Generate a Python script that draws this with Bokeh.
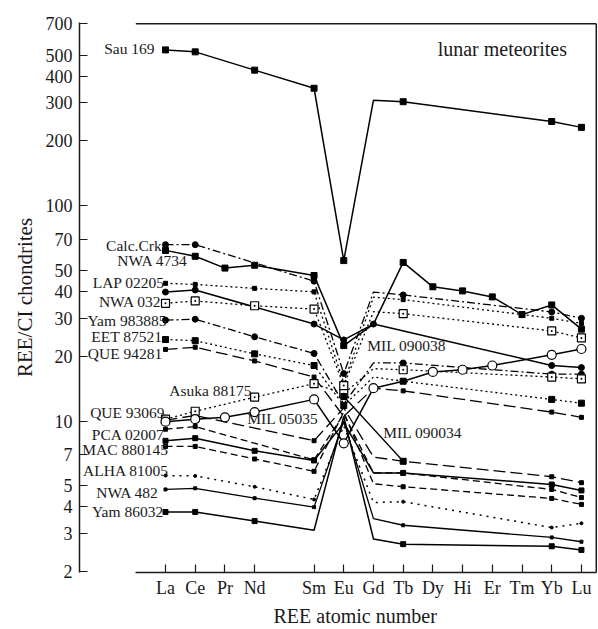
from bokeh.plotting import figure
from bokeh.models import Range1d, FixedTicker, NumeralTickFormatter, ColumnDataSource, Label, Title
from bokeh.core.properties import value
from bokeh.embed import file_html
from bokeh.resources import INLINE

# ---------------- data ----------------
ELEMENTS = ["La", "Ce", "Pr", "Nd", "Pm", "Sm", "Eu", "Gd", "Tb", "Dy", "Hi", "Er", "Tm", "Yb", "Lu"]
TICK_ELEMENTS = ["La", "Ce", "Pr", "Nd", "Sm", "Eu", "Gd", "Tb", "Dy", "Hi", "Er", "Tm", "Yb", "Lu"]
Y_TICKS = [2, 3, 4, 5, 7, 10, 20, 30, 40, 50, 70, 100, 200, 300, 400, 500, 700]

sau169_el = ["La", "Ce", "Nd", "Sm", "Eu", "Gd", "Tb", "Yb", "Lu"]
sau169_val = [529, 518, 426, 351, 55.6, 309, 304, 246, 231]
sau169_mk = ["La", "Ce", "Nd", "Sm", "Eu", "Tb", "Yb", "Lu"]

calccrk_el = ["La", "Ce", "Sm", "Eu", "Gd", "Tb", "Yb", "Lu"]
calccrk_val = [65.9, 65.9, 44.6, 16.6, 39.7, 38.5, 32.1, 30.0]
calccrk_mk = ["La", "Ce", "Sm", "Eu", "Tb", "Yb", "Lu"]

nwa4734_el = ["La", "Ce", "Pr", "Nd", "Sm", "Eu", "Gd", "Tb", "Dy", "Hi", "Er", "Tm", "Yb", "Lu"]
nwa4734_val = [62.0, 58.2, 51.3, 52.9, 47.4, 22.4, 28.2, 54.5, 42.0, 40.2, 37.7, 31.2, 34.6, 26.7]
nwa4734_mk = ["La", "Ce", "Pr", "Nd", "Sm", "Eu", "Tb", "Dy", "Hi", "Er", "Tm", "Yb", "Lu"]

lap02205_el = ["La", "Ce", "Nd", "Sm", "Eu", "Gd", "Tb", "Yb", "Lu"]
lap02205_val = [43.6, 43.1, 41.3, 39.8, 15.0, 37.6, 36.6, 30.0, 28.4]
lap02205_mk = ["La", "Ce", "Nd", "Sm", "Eu", "Tb", "Yb", "Lu"]

mil090038_el = ["La", "Ce", "Sm", "Eu", "Gd", "Yb", "Lu"]
mil090038_val = [39.7, 40.6, 28.2, 23.8, 28.2, 18.1, 17.7]
mil090038_mk = ["La", "Ce", "Sm", "Eu", "Gd", "Yb", "Lu"]

nwa032_el = ["La", "Ce", "Nd", "Sm", "Eu", "Gd", "Tb", "Yb", "Lu"]
nwa032_val = [35.2, 36.1, 34.3, 33.1, 14.6, 32.2, 31.5, 26.2, 24.3]
nwa032_mk = ["La", "Ce", "Nd", "Sm", "Eu", "Tb", "Yb", "Lu"]

yam983885_el = ["La", "Ce", "Nd", "Sm", "Eu", "Gd", "Tb", "Yb", "Lu"]
yam983885_val = [29.4, 29.7, 24.6, 20.6, 12.0, 18.6, 18.6, 16.5, 16.5]
yam983885_mk = ["La", "Ce", "Nd", "Sm", "Tb", "Yb", "Lu"]

eet87521_el = ["La", "Ce", "Nd", "Sm", "Eu", "Gd", "Tb", "Yb", "Lu"]
eet87521_val = [23.9, 23.6, 20.5, 18.1, 11.8, 16.0, 15.3, 12.6, 12.1]
eet87521_mk = ["La", "Ce", "Nd", "Sm", "Eu", "Tb", "Yb", "Lu"]

que94281_el = ["La", "Ce", "Nd", "Sm", "Eu", "Gd", "Tb", "Yb", "Lu"]
que94281_val = [21.5, 22.0, 19.0, 16.0, 10.5, 14.2, 13.8, 11.0, 10.4]
que94281_mk = ["La", "Ce", "Nd", "Sm", "Tb", "Yb", "Lu"]

asuka88175_el = ["La", "Ce", "Nd", "Sm", "Eu", "Gd", "Tb", "Yb", "Lu"]
asuka88175_val = [10.2, 11.1, 12.9, 14.9, 13.4, 17.5, 17.3, 16.0, 15.7]
asuka88175_mk = ["La", "Ce", "Nd", "Sm", "Eu", "Tb", "Yb", "Lu"]

que93069_el = ["La", "Ce", "Sm", "Eu", "Gd", "Tb", "Yb", "Lu"]
que93069_val = [10.1, 10.6, 8.1, 11.5, 6.8, 6.5, 5.51, 5.17]
que93069_mk = ["Sm", "Tb", "Yb", "Lu"]

mil05035_el = ["La", "Ce", "Pr", "Nd", "Sm", "Eu", "Gd", "Tb", "Dy", "Hi", "Er", "Yb", "Lu"]
mil05035_val = [9.93, 10.2, 10.4, 11.0, 12.6, 7.88, 14.2, 15.3, 16.9, 17.3, 18.1, 20.3, 21.6]
mil05035_mk = ["La", "Ce", "Pr", "Nd", "Sm", "Eu", "Gd", "Dy", "Hi", "Er", "Yb", "Lu"]

mil090034_el = ["Eu", "Tb"]
mil090034_val = [13.0, 6.5]
mil090034_mk = ["Eu", "Tb"]

pca02007_el = ["La", "Ce", "Sm", "Eu", "Gd", "Tb", "Yb", "Lu"]
pca02007_val = [9.16, 9.42, 6.6, 10.8, 5.74, 5.74, 4.81, 4.41]
pca02007_mk = ["La", "Ce", "Sm", "Tb", "Yb", "Lu"]

solid8_el = ["La", "Ce", "Nd", "Sm", "Eu", "Gd", "Tb", "Yb", "Lu"]
solid8_val = [8.09, 8.32, 7.27, 6.56, 9.8, 5.74, 5.74, 5.07, 4.76]
solid8_mk = ["La", "Ce", "Nd", "Sm", "Tb", "Yb", "Lu"]

mac880145_el = ["La", "Ce", "Nd", "Sm", "Eu", "Gd", "Tb", "Yb", "Lu"]
mac880145_val = [7.62, 7.62, 6.66, 5.84, 11.0, 5.11, 4.95, 4.37, 4.10]
mac880145_mk = ["La", "Ce", "Nd", "Sm", "Tb", "Yb", "Lu"]

alha81005_el = ["La", "Ce", "Nd", "Sm", "Eu", "Gd", "Tb", "Yb", "Lu"]
alha81005_val = [5.58, 5.56, 4.95, 4.32, 9.5, 4.18, 4.22, 3.2, 3.35]
alha81005_mk = ["La", "Ce", "Nd", "Sm", "Tb", "Yb", "Lu"]

nwa482_el = ["La", "Ce", "Nd", "Sm", "Eu", "Gd", "Tb", "Yb", "Lu"]
nwa482_val = [4.81, 4.87, 4.38, 3.98, 10.0, 3.52, 3.28, 2.88, 2.75]
nwa482_mk = ["La", "Ce", "Nd", "Sm", "Tb", "Yb", "Lu"]

yam86032_el = ["La", "Ce", "Nd", "Sm", "Eu", "Gd", "Tb", "Yb", "Lu"]
yam86032_val = [3.78, 3.78, 3.43, 3.11, 10.5, 2.83, 2.68, 2.62, 2.52]
yam86032_mk = ["La", "Ce", "Nd", "Tb", "Yb", "Lu"]

# ---------------- styles ----------------
SOLID = "solid"
DOT = "2 3"
DASHDOT = "8 3 2 3"
LDASH = "12 5"
DASH = "7 4"

series = [
    (sau169_el, sau169_val, sau169_mk, SOLID, 1.5, "square", 6, "black"),
    (calccrk_el, calccrk_val, calccrk_mk, DASHDOT, 1.3, "circle", 6, "black"),
    (nwa4734_el, nwa4734_val, nwa4734_mk, SOLID, 1.5, "square", 6, "black"),
    (lap02205_el, lap02205_val, lap02205_mk, DOT, 1.3, "square", 4, "black"),
    (mil090038_el, mil090038_val, mil090038_mk, SOLID, 1.5, "circle", 6, "black"),
    (nwa032_el, nwa032_val, nwa032_mk, DOT, 1.3, "square_dot", 8, "white"),
    (yam983885_el, yam983885_val, yam983885_mk, DASHDOT, 1.3, "circle", 6, "black"),
    (eet87521_el, eet87521_val, eet87521_mk, DOT, 1.3, "square", 6, "black"),
    (que94281_el, que94281_val, que94281_mk, LDASH, 1.3, "square", 4, "black"),
    (asuka88175_el, asuka88175_val, asuka88175_mk, DOT, 1.3, "square_dot", 8, "white"),
    (que93069_el, que93069_val, que93069_mk, LDASH, 1.3, "square", 4, "black"),
    (mil05035_el, mil05035_val, mil05035_mk, SOLID, 1.5, "circle", 9, "white"),
    (mil090034_el, mil090034_val, mil090034_mk, SOLID, 1.3, "square", 6, "black"),
    (pca02007_el, pca02007_val, pca02007_mk, DASH, 1.3, "square", 4, "black"),
    (solid8_el, solid8_val, solid8_mk, SOLID, 1.5, "square", 5, "black"),
    (mac880145_el, mac880145_val, mac880145_mk, DASH, 1.3, "square", 4, "black"),
    (alha81005_el, alha81005_val, alha81005_mk, "2 5", 1.5, "circle", 3, "black"),
    (nwa482_el, nwa482_val, nwa482_mk, SOLID, 1.3, "square", 3, "black"),
    (yam86032_el, yam86032_val, yam86032_mk, SOLID, 1.5, "square", 5, "black"),
]

Z = {el: 57 + i for i, el in enumerate(ELEMENTS)}

FONT = "Liberation Serif"
INK = "#1a1a1a"

p = figure(width=598, height=629,
           x_range=Range1d(54.105, 71.541), y_range=Range1d(1.979, 709),
           y_axis_type="log", output_backend="svg", toolbar_location=None,
           min_border_left=79, min_border_right=1, min_border_top=22, min_border_bottom=57)
p.xgrid.visible = False
p.ygrid.visible = False
p.outline_line_color = None
p.background_fill_color = "white"

# x axis
xa = p.xaxis[0]
xa.ticker = FixedTicker(ticks=[Z[e] for e in TICK_ELEMENTS])
xa.major_label_overrides = {Z[e]: e for e in TICK_ELEMENTS}
xa.bounds = (56, 71.5)
xa.minor_tick_line_color = None
xa.major_tick_in = 8
xa.major_tick_out = 0
xa.axis_line_width = 1.5
xa.major_tick_line_width = 1.2
xa.axis_line_color = INK
xa.major_tick_line_color = INK
xa.major_label_text_font = FONT
xa.major_label_text_font_size = "18px"
xa.major_label_text_color = INK
xa.major_label_standoff = 5

# y axis
ya = p.yaxis[0]
ya.ticker = FixedTicker(ticks=Y_TICKS)
ya.formatter = NumeralTickFormatter(format="0")
ya.minor_tick_line_color = None
ya.major_tick_in = 8
ya.major_tick_out = 0
ya.axis_line_width = 1.5
ya.major_tick_line_width = 1.2
ya.axis_line_color = INK
ya.major_tick_line_color = INK
ya.major_label_text_font = FONT
ya.major_label_text_font_size = "18px"
ya.major_label_text_color = INK
ya.major_label_standoff = 7

# axis titles
p.add_layout(Title(text="REE atomic number", align="left", offset=194, standoff=5,
                   text_font=FONT, text_font_size="20px", text_font_style="normal",
                   text_color=INK), "below")
p.add_layout(Title(text="REE/CI chondrites", align="center", standoff=12,
                   text_font=FONT, text_font_size="21px", text_font_style="normal",
                   text_color=INK), "left")

# frame top and right edges
p.segment(x0=[56], y0=[700], x1=[71.5], y1=[700], line_color=INK, line_width=1.5)
p.segment(x0=[71.5], y0=[700], x1=[71.5], y1=[1.979], line_color=INK, line_width=1.5)

# lines
for el, val, mk, dash, lw, marker, size, fill in series:
    p.line([Z[e] for e in el], val, line_color="black", line_width=lw, line_dash=dash)

# markers
for el, val, mk, dash, lw, marker, size, fill in series:
    xs = [Z[e] for e, v in zip(el, val) if e in mk]
    ys = [v for e, v in zip(el, val) if e in mk]
    p.scatter(xs, ys, marker=marker, size=size, fill_color=fill, line_color="black",
              line_width=1.2 if fill == "white" else 1)

# labels
right_labels = ColumnDataSource(dict(
    x=[56.87, 57.74, 56.97, 56.86, 57.03, 56.89, 56.89, 56.97, 56.97, 57.08, 57.11, 56.77, 56.92, 56.63],
    y=[65.4, 55.8, 43.8, 35.8, 29.4, 24.6, 20.6, 10.96, 8.61, 7.35, 5.88, 4.67, 3.78, 535],
    text=["Calc.Crk", "NWA 4734", "LAP 02205", "NWA 032", "Yam 983885", "EET 87521", "QUE 94281",
          "QUE 93069", "PCA 02007", "MAC 880145", "ALHA 81005", "NWA 482", "Yam 86032", "Sau 169"],
))
p.text("x", "y", "text", source=right_labels, text_align="right", text_baseline="middle",
       text_font=value(FONT), text_font_size="15.5px", text_color=INK)

left_labels = ColumnDataSource(dict(
    x=[57.13, 59.75, 63.79, 64.33],
    y=[13.9, 10.3, 22.4, 8.87],
    text=["Asuka 88175", "MIL 05035", "MIL 090038", "MIL 090034"],
))
p.text("x", "y", "text", source=left_labels, text_align="left", text_baseline="middle",
       text_font=value(FONT), text_font_size="15.5px", text_color=INK)

p.add_layout(Label(x=66.16, y=535, text="lunar meteorites", text_align="left", text_baseline="middle",
                   text_font=FONT, text_font_size="20px", text_color=INK))

open("out.html", "w").write(file_html(p, INLINE))
